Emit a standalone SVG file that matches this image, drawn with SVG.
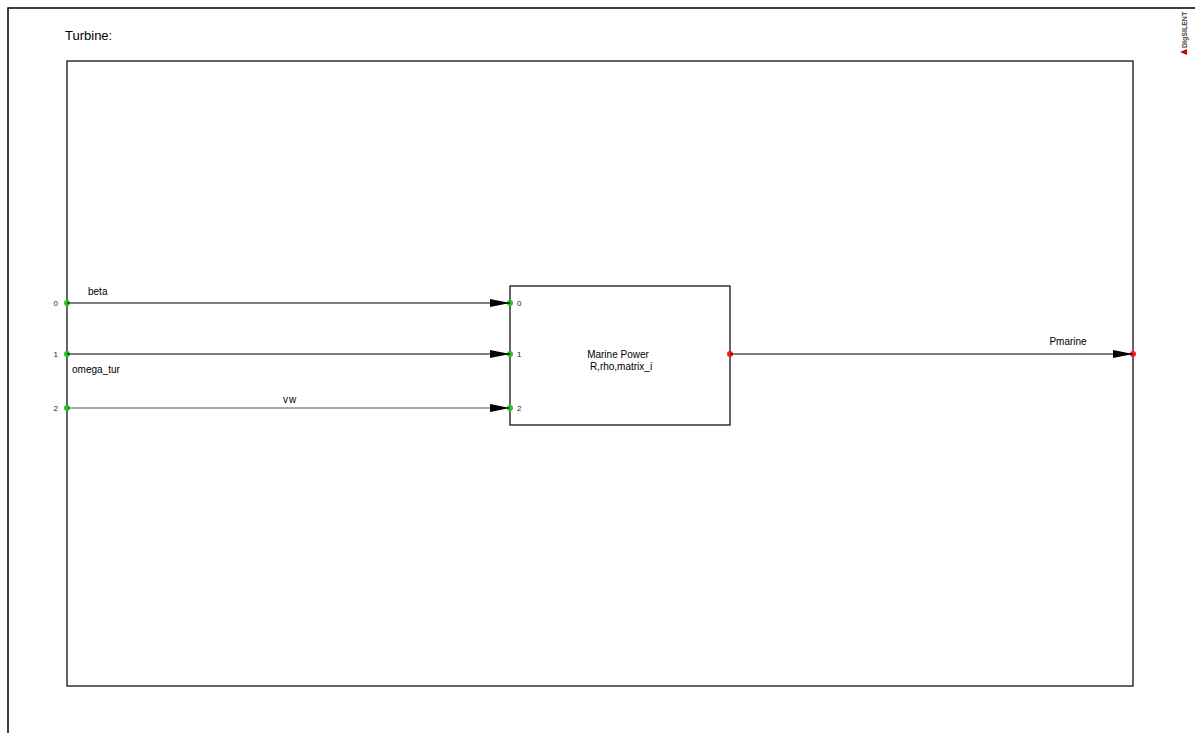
<svg xmlns="http://www.w3.org/2000/svg" width="1195" height="733" viewBox="0 0 1195 733">
<defs>
<style>
text{font-family:"Liberation Sans",Arial,sans-serif;fill:#000}
.lbl{font-size:10px}
.num{font-size:8px;fill:#222}
.frame{fill:none;stroke:#000;stroke-width:1.5}
.box{fill:#fff;stroke:#000;stroke-width:1.2}
.wire{stroke:#000;stroke-width:1;fill:none}
.in{fill:#1ec81e}
.out{fill:#ff1a1a}
</style>
<marker id="arr" viewBox="0 0 20 8" refX="20" refY="4" markerWidth="20" markerHeight="8" markerUnits="userSpaceOnUse" orient="auto">
<path d="M0,0 L20,4 L0,8 Z" fill="#000"/>
</marker>
</defs>
<rect width="1195" height="733" fill="#fff"/>
<g id="frame">
<path d="M8,733 L8,8 L1195,8" class="frame"/>
<text x="65" y="40" style="font-size:13px">Turbine:</text>
<text transform="translate(1187,48) rotate(-90)" style="font-size:7px;font-weight:bold;fill:#444">DIgSILENT</text>
<path d="M1180,52 L1187,49 L1187,55 Z" fill="#c00"/>
</g>
<g id="subsystem">
<rect x="67" y="61" width="1066" height="625" class="frame" style="stroke-width:1.2"/>
<circle cx="67" cy="303" r="3" class="in"/>
<circle cx="67" cy="354" r="3" class="in"/>
<circle cx="67" cy="408" r="3" class="in"/>
<text x="58" y="306" class="num" text-anchor="end">0</text>
<text x="58" y="357" class="num" text-anchor="end">1</text>
<text x="58" y="411" class="num" text-anchor="end">2</text>
<circle cx="1133" cy="354" r="3" class="out"/>
</g>
<g id="marine-power">
<rect x="510" y="286" width="220" height="139" class="box"/>
<text x="618" y="358" class="lbl" text-anchor="middle">Marine Power</text>
<text x="621" y="370" class="lbl" text-anchor="middle">R,rho,matrix_i</text>
<text x="517" y="306" class="num">0</text>
<text x="517" y="357" class="num">1</text>
<text x="517" y="411" class="num">2</text>
<circle cx="510" cy="303" r="3" class="in"/>
<circle cx="510" cy="354" r="3" class="in"/>
<circle cx="510" cy="408" r="3" class="in"/>
<circle cx="730" cy="354" r="3" class="out"/>
</g>
<g id="connectors">
<line x1="67" y1="303" x2="510" y2="303" class="wire" marker-end="url(#arr)"/>
<line x1="67" y1="354" x2="510" y2="354" class="wire" marker-end="url(#arr)"/>
<line x1="67" y1="408" x2="510" y2="408" class="wire" style="stroke:#555" marker-end="url(#arr)"/>
<line x1="730" y1="354" x2="1133" y2="354" class="wire" marker-end="url(#arr)"/>
<text x="88" y="295" class="lbl">beta</text>
<text x="72" y="373" class="lbl">omega_tur</text>
<text x="290" y="403" class="lbl" text-anchor="middle" letter-spacing="1">vw</text>
<text x="1068" y="345" class="lbl" text-anchor="middle">Pmarine</text>
</g>
</svg>
